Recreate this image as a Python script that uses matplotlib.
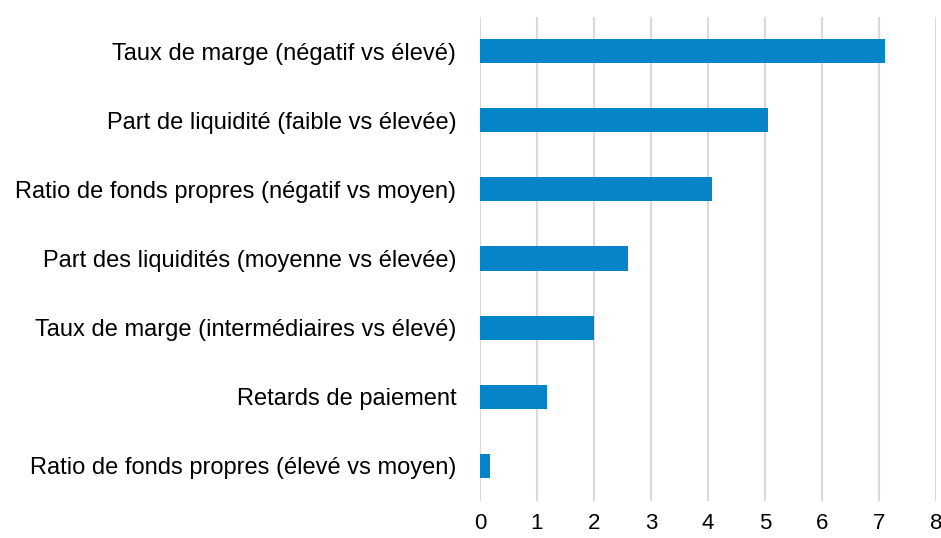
import matplotlib.pyplot as plt
import numpy as np

plt.rcParams["font.family"] = ["Liberation Sans", "DejaVu Sans"]

# categories listed top to bottom
labels = [
    "Taux de marge (négatif vs élevé)",
    "Part de liquidité (faible vs élevée)",
    "Ratio de fonds propres (négatif vs moyen)",
    "Part des liquidités (moyenne vs élevée)",
    "Taux de marge (intermédiaires vs élevé)",
    "Retards de paiement",
    "Ratio de fonds propres (élevé vs moyen)",
]
values = [7.1, 5.05, 4.07, 2.6, 2.0, 1.17, 0.18]
x_ticks = [0, 1, 2, 3, 4, 5, 6, 7, 8]

fig = plt.figure(figsize=(9.41, 5.38), dpi=100)
ax = fig.add_axes([0.510, 0.0697, 0.4847, 0.8996])

y = np.arange(len(labels))[::-1]
ax.barh(y, values, height=0.35, color="#0584CA", zorder=3)

ax.set_xlim(0, 8)
ax.set_ylim(-0.5, len(labels) - 0.5)
ax.set_xticks(x_ticks)
ax.set_yticks(y)
ax.set_yticklabels(labels)
ax.xaxis.grid(True, color="#D9D9D9", linewidth=1.5, zorder=0)
for s in ax.spines.values():
    s.set_visible(False)
ax.tick_params(axis="both", length=0, colors="#000000")
ax.tick_params(axis="y", pad=17, labelsize=17)
ax.tick_params(axis="x", pad=9, labelsize=16)

fig.savefig("out.png", dpi=100)
